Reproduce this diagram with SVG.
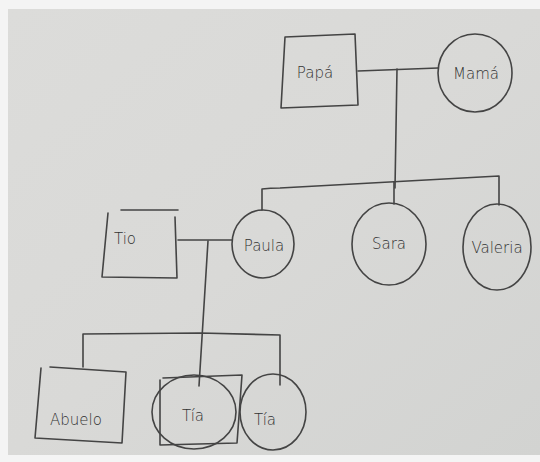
<svg xmlns="http://www.w3.org/2000/svg" width="540" height="462" viewBox="0 0 540 462">
<defs>
<linearGradient id="paper" x1="0" y1="0" x2="1" y2="1">
<stop offset="0" stop-color="#dcdcda"/>
<stop offset="0.5" stop-color="#d9d9d7"/>
<stop offset="1" stop-color="#d2d3d1"/>
</linearGradient>
</defs>
<style>
.ln{fill:none;stroke:#444;stroke-width:1.6;stroke-linecap:round;stroke-linejoin:round}
.t{font-family:"DejaVu Sans","Liberation Sans",sans-serif;font-size:15px;fill:#333;font-weight:300;text-anchor:middle}
</style>
<rect width="540" height="462" fill="#f4f4f4"/>
<rect x="8" y="9" width="532" height="446" fill="url(#paper)"/>

<g id="connectors" class="ln">
<path d="M358 71 L438 68"/>
<path d="M397 69 L395 188"/>
<path d="M262 210 L262 189 Q270 188 280 188 L499 176 L499 205"/>
<path d="M394 182 L394 204"/>
<path d="M178 240 L232 240"/>
<path d="M208 241 L199 386"/>
<path d="M83 367 L83 334 L200 333 L280 335 L280 385"/>
</g>

<g id="papa">
<path class="ln" d="M285 37 L355 34 L358 105 L281 108 Z"/>
<text class="t" x="315" y="78">Papá</text>
</g>
<g id="mama">
<ellipse class="ln" cx="475" cy="73" rx="37" ry="39"/>
<text class="t" x="476" y="79">Mamá</text>
</g>
<g id="tio">
<path class="ln" d="M121 210 L178 210 M108 213 L102 277 L177 278 L175 217"/>
<text class="t" x="125" y="244">Tio</text>
</g>
<g id="paula">
<ellipse class="ln" cx="263" cy="244" rx="31" ry="34"/>
<text class="t" x="264" y="251">Paula</text>
</g>
<g id="sara">
<ellipse class="ln" cx="389" cy="244" rx="37" ry="41"/>
<text class="t" x="389" y="249">Sara</text>
</g>
<g id="valeria">
<ellipse class="ln" cx="497" cy="247" rx="34" ry="43"/>
<text class="t" x="497" y="253">Valeria</text>
</g>
<g id="abuelo">
<path class="ln" d="M50 367 L126 372 M41 368 L35 438 L122 443 L126 372"/>
<text class="t" x="76" y="425">Abuelo</text>
</g>
<g id="tia1">
<ellipse class="ln" cx="194" cy="412" rx="42" ry="37"/>
<path class="ln" d="M163 378 L242 375 L237 443 L160 445 L160 380"/>
<text class="t" x="193" y="421">Tía</text>
</g>
<g id="tia2">
<ellipse class="ln" cx="273" cy="412" rx="33" ry="38"/>
<text class="t" x="265" y="425">Tía</text>
</g>
</svg>
